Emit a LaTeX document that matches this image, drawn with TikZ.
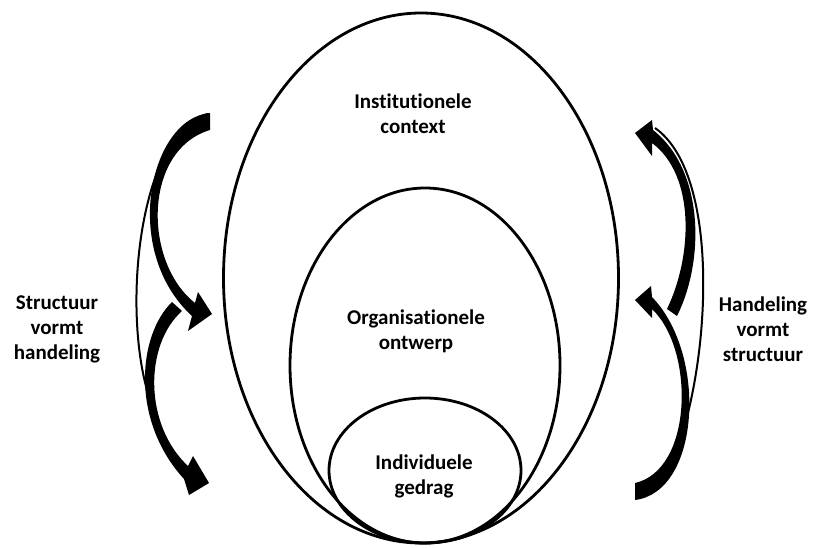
\documentclass[tikz,border=0pt]{standalone}
\usepackage{fontspec}
\setmainfont{Carlito}[Ligatures=NoCommon]
\usetikzlibrary{shapes.geometric}

\begin{document}
\begin{tikzpicture}[x=1pt, y=-1pt,
    ring/.style={draw, ellipse, line width=2.8pt, inner sep=0pt, outer sep=0pt},
    lbl/.style={align=center, font=\bfseries\fontsize{21}{25}\selectfont, inner sep=0pt},
    bandarrow/.style={fill=black},
    backline/.style={draw=black, line width=2pt}]
    \useasboundingbox (0,0) rectangle (821,548);

    % nested ellipses, all touching at the bottom
    \node[ring, minimum width=395pt, minimum height=530pt] (outer) at (421,278) {};
    \node[ring, minimum width=270pt, minimum height=355pt] (middle) at (425,365.5) {};
    \node[ring, minimum width=192pt, minimum height=145pt] (inner) at (425,470.5) {};

    \node[lbl] (inst) at (413,114) {Institutionele\\context};
    \node[lbl] (org) at (416,331) {Organisationele\\ontwerp};
    \node[lbl] (indiv) at (424,476) {Individuele\\gedrag};

    \node[lbl] (leftlbl) at (57,329) {Structuur\\vormt\\handeling};
    \node[lbl] (rightlbl) at (763,329) {Handeling\\vormt\\structuur};

    % left curved arrows
    \draw[backline] (208,114) .. controls (140,130) and (120,310) .. (150,400);
    \fill[bandarrow] (210,113) .. controls (150,118) and (120,250) .. (192,316)
        -- (188,331) -- (212,314) -- (198,292) -- (195,303)
        .. controls (143,262) and (143,150) .. (210,130) -- cycle;
    \fill[bandarrow] (172,302) .. controls (138,335) and (130,420) .. (184,479)
        -- (189,495) -- (209,483) -- (193,456) -- (188,466)
        .. controls (144,425) and (144,345) .. (182,311) -- cycle;

    % right curved arrows
    \draw[backline] (655,128) .. controls (715,170) and (712,330) .. (684,428);
    \fill[bandarrow] (635,500) .. controls (700,492) and (708,355) .. (652,297)
        -- (651,286) -- (635,300) -- (652,318) -- (652,309)
        .. controls (695,350) and (693,470) .. (635,483) -- cycle;
    \fill[bandarrow] (677,316) .. controls (705,260) and (704,170) .. (653,130)
        -- (652,120) -- (635,133) -- (652,156) -- (652,143)
        .. controls (695,175) and (693,255) .. (667,309) -- cycle;
\end{tikzpicture}
\end{document}
